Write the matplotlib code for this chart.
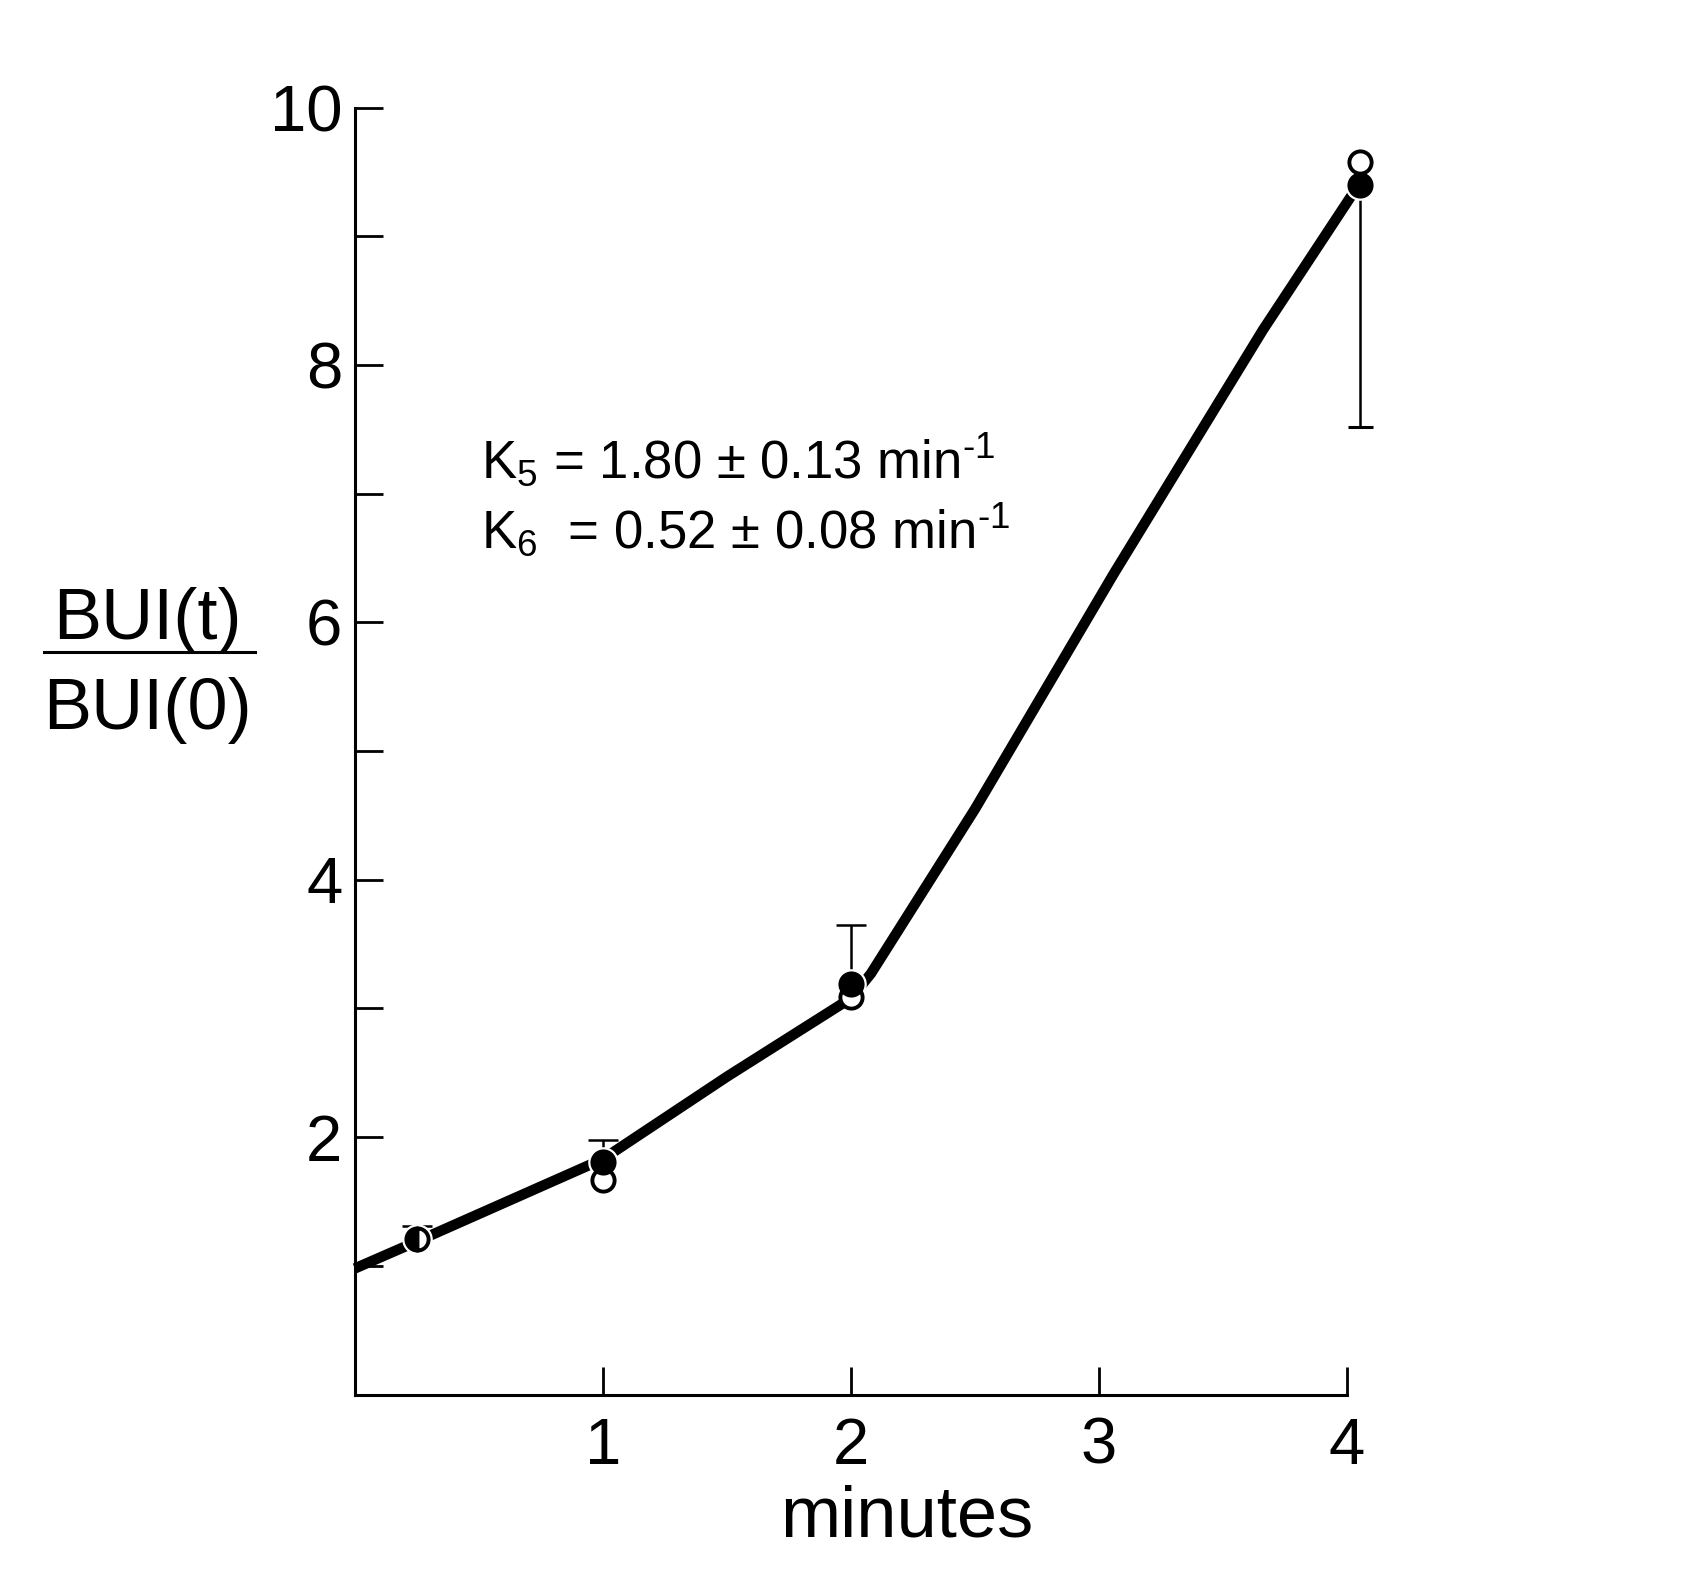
import numpy as np
import matplotlib
matplotlib.use("Agg")
import matplotlib.pyplot as plt
from matplotlib.lines import Line2D

plt.rcParams["font.family"] = ["Liberation Sans", "DejaVu Sans"]
plt.rcParams["mathtext.fontset"] = "custom"
plt.rcParams["mathtext.rm"] = "Liberation Sans"
plt.rcParams["mathtext.it"] = "Liberation Sans"
plt.rcParams["mathtext.default"] = "regular"

# fitted curve
curve_t = [0.0, 0.25, 1.0, 1.5, 2.0, 2.08, 2.5, 3.06, 3.66, 4.05]
curve_y = [0.98, 1.19, 1.83, 2.47, 3.08, 3.27, 4.55, 6.38, 8.27, 9.41]

# measured points
t_pts = [0.25, 1.0, 2.0, 4.05]
filled_y = [1.21, 1.81, 3.19, 9.40]
open_y = [1.21, 1.67, 3.09, 9.58]
err_lo = [0.0, 0.0, 0.0, 1.88]
err_hi = [0.10, 0.17, 0.46, 0.0]

x_ticks = [1, 2, 3, 4]
y_ticks = [1, 2, 3, 4, 5, 6, 7, 8, 9, 10]
y_labels = ["", "2", "", "4", "", "6", "", "8", "", "10"]

fig = plt.figure(figsize=(16.86, 15.74), dpi=100)
ax = fig.add_axes([0.2105, 0.114, 0.5885, 0.8177])

ax.plot(curve_t, curve_y, color="black", lw=7.5, solid_capstyle="butt", solid_joinstyle="round",
        zorder=2, clip_on=False)

# one-sided error bars: hide the cap on the point side
up = [i for i in range(len(t_pts)) if err_hi[i] > 0]
dn = [i for i in range(len(t_pts)) if err_lo[i] > 0]
eb = ax.errorbar([t_pts[i] for i in up], [filled_y[i] for i in up],
                 yerr=[[0] * len(up), [err_hi[i] for i in up]], fmt="none", ecolor="black",
                 elinewidth=1.8, capsize=11, capthick=1.8, zorder=3, clip_on=False)
eb[1][0].set_visible(False)
eb = ax.errorbar([t_pts[i] for i in dn], [filled_y[i] for i in dn],
                 yerr=[[err_lo[i] for i in dn], [0] * len(dn)], fmt="none", ecolor="black",
                 elinewidth=1.8, capsize=9, capthick=2.2, zorder=3, clip_on=False)
eb[1][1].set_visible(False)

# white halo round the points, then open and filled circles
ax.plot(t_pts, filled_y, "o", ms=21, color="white", zorder=4, clip_on=False)
ax.plot(t_pts[1:], open_y[1:], "o", ms=16, mfc="white", mec="black", mew=2.8, zorder=5, clip_on=False)
ax.plot(t_pts[1:], filled_y[1:], "o", ms=16, mfc="black", mec="black", mew=2.8, zorder=6, clip_on=False)
ax.plot(t_pts[:1], filled_y[:1], "o", ms=16, fillstyle="left", mfc="black", mfcalt="white",
        mec="black", mew=2.8, zorder=6, clip_on=False)

ax.set_xlim(0, 4)
ax.set_ylim(0, 10)
ax.set_xticks(x_ticks)
ax.set_xticklabels([str(v) for v in x_ticks])
ax.set_yticks(y_ticks)
ax.set_yticklabels(y_labels)
ax.tick_params(direction="in", length=20, width=2, labelsize=47, pad=9)
ax.tick_params(axis="x", pad=16)

for s in ["top", "right"]:
    ax.spines[s].set_visible(False)
for s in ["left", "bottom"]:
    ax.spines[s].set_linewidth(2.2)

ax.text(0.507, 7.12, r"K$_5$ = 1.80 ± 0.13 min$^{\text{-}1}$", fontsize=38, va="baseline")
ax.text(0.507, 6.57, r"K$_6$  = 0.52 ± 0.08 min$^{\text{-}1}$", fontsize=38, va="baseline")

# y label drawn as a fraction
fig.text(0.0874, 0.594, "BUI(t)", fontsize=52, ha="center", va="baseline")
fig.add_artist(Line2D([0.026, 0.151], [0.586, 0.586], color="black", lw=2.2))
fig.text(0.0874, 0.537, "BUI(0)", fontsize=52, ha="center", va="baseline")

fig.text(0.538, 0.024, "minutes", fontsize=52, ha="center", va="baseline")

fig.savefig("out.png", dpi=100, facecolor="white")
